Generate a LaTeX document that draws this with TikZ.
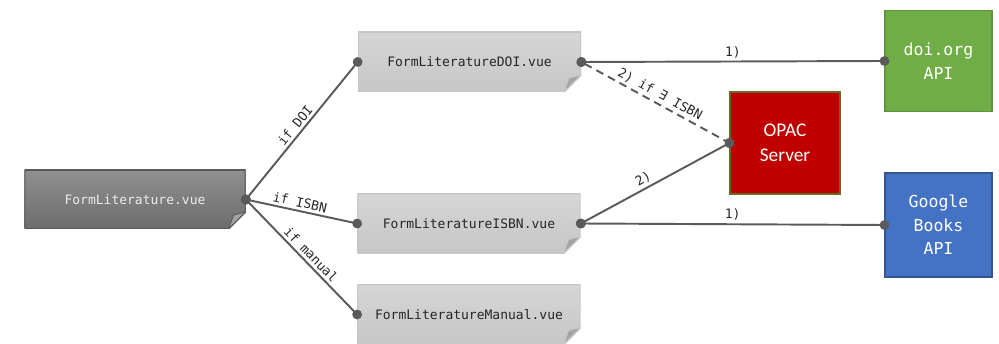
\documentclass[tikz,border=0pt]{standalone}
\usepackage{fontspec}
\setmainfont{Carlito}
\setmonofont{DejaVu Sans Mono}
\usetikzlibrary{arrows.meta}

\definecolor{linegray}{HTML}{5A5A5A}
\definecolor{lighttop}{HTML}{D6D6D6}
\definecolor{lightbot}{HTML}{C6C6C6}
\definecolor{darktop}{HTML}{909090}
\definecolor{darkbot}{HTML}{6C6C6C}
\definecolor{foldgray}{HTML}{A4A4A4}
\definecolor{opacred}{HTML}{C00000}
\definecolor{doigreen}{HTML}{70AD47}
\definecolor{googleblue}{HTML}{4472C4}

\newlength{\foldsz}\setlength{\foldsz}{0.34cm}

\tikzset{
    foldbox/.style n args={4}{minimum width=4.46cm, minimum height=1.2cm, inner sep=0pt,
        text=#3, font=\ttfamily\fontsize{7.4}{9}\selectfont,
        path picture={
            \shade[top color=#1, bottom color=#2, draw=#4, line width=1pt]
                (path picture bounding box.south west)
                -- ([xshift=-\foldsz]path picture bounding box.south east)
                -- ([yshift=\foldsz]path picture bounding box.south east)
                -- (path picture bounding box.north east)
                -- (path picture bounding box.north west) -- cycle;
            \fill[foldgray, draw=#4, line width=0.5pt]
                ([xshift=-\foldsz]path picture bounding box.south east)
                -- ([yshift=\foldsz]path picture bounding box.south east)
                -- ([xshift=-0.7\foldsz, yshift=0.82\foldsz]path picture bounding box.south east) -- cycle;
        }},
    vuefile/.style={foldbox={lighttop}{lightbot}{black!85}{lightbot}},
    vuemain/.style={foldbox={darktop}{darkbot}{white!92!black}{black!65}},
    service/.style={minimum width=2.14cm, minimum height=2.04cm, inner sep=0pt,
        text=white, align=center, line width=0.6pt},
}

\begin{document}
\begin{tikzpicture}
    \useasboundingbox (0,0) rectangle (19.98,-6.88);

    % vue components
    \node[vuemain, minimum width=4.42cm, minimum height=1.18cm] (lit) at (2.70,-3.99) {FormLiterature.vue};
    \node[vuefile] (litdoi) at (9.39,-1.24) {FormLiteratureDOI.vue};
    \node[vuefile] (litisbn) at (9.38,-4.47) {FormLiteratureISBN.vue};
    \node[vuefile] (litman) at (9.38,-6.29) {FormLiteratureManual.vue};

    % external services
    \node[service, fill=opacred, draw=olive!70!black, minimum width=2.2cm,
        font=\fontsize{11}{14}\selectfont] (opac) at (15.70,-2.86) {OPAC\\Server};
    \node[service, fill=doigreen, draw=doigreen!85!black, minimum height=2.02cm,
        font=\ttfamily\fontsize{9.4}{13.4}\selectfont] (doiapi) at (18.77,-1.22) {doi.org\\API};
    \node[service, fill=googleblue, draw=googleblue!75!black, minimum height=2.08cm,
        font=\ttfamily\fontsize{9.4}{13.4}\selectfont] (gbapi) at (18.77,-4.50) {Google\\Books\\API};

    \begin{scope}
        [
            every edge/.style={draw=linegray, line width=1.1pt,
                {Circle[length=5.5pt]}-{Circle[length=5.5pt]},
                shorten <=-2.75pt, shorten >=-2.75pt},
            every node/.style={text=black!85, font=\ttfamily\fontsize{7.4}{9}\selectfont,
                sloped, above, inner sep=1.5pt},
        ]
        \path
        (lit.east) edge node{if DOI} (litdoi.west)
        (lit.east) edge node[pos=0.47]{if ISBN} (litisbn.west)
        (lit.east) edge node[pos=0.53]{if manual} (litman.west)
        (litdoi.east) edge node{1)} (doiapi.west)
        (litdoi.east) edge[dash pattern=on 4.5pt off 3pt] node{2) if ∃ ISBN} (opac.west)
        (litisbn.east) edge node[pos=0.45]{2)} (opac.west)
        (litisbn.east) edge node{1)} (gbapi.west);
    \end{scope}
\end{tikzpicture}
\end{document}
